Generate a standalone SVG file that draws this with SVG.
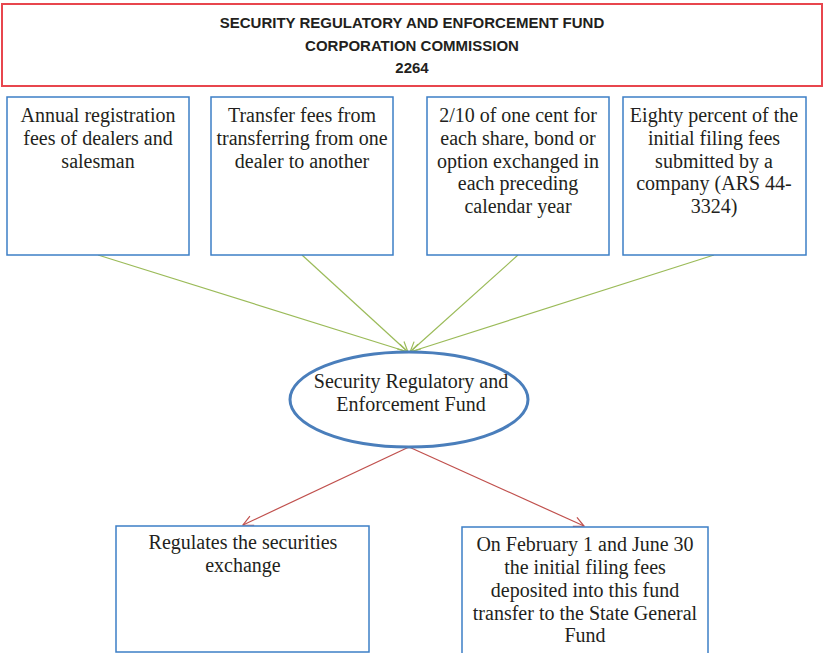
<svg xmlns="http://www.w3.org/2000/svg" width="825" height="653" viewBox="0 0 825 653">
  <defs>
    <style>
      .box { fill: #ffffff; stroke: #3d7fc6; stroke-width: 1.5; }
      .title-box { fill: #ffffff; stroke: #e8464e; stroke-width: 2; }
      .title { font-family: "Liberation Sans", Arial, sans-serif; font-weight: bold; font-size: 15px; fill: #231f20; text-anchor: middle; }
      .label { font-family: "Liberation Serif", "Times New Roman", serif; font-size: 20px; fill: #231f20; text-anchor: middle; }
      .in { stroke: #9bbb59; stroke-width: 1.2; fill: none; }
      .out { stroke: #c0504d; stroke-width: 1.2; fill: none; }
    </style>
    <marker id="arrow-green" viewBox="0 0 12 12" refX="11" refY="6" markerWidth="12" markerHeight="12" markerUnits="userSpaceOnUse" orient="auto">
      <path d="M1,1 L11,6 L1,11" fill="none" stroke="#9bbb59" stroke-width="1.2"/>
    </marker>
    <marker id="arrow-red" viewBox="0 0 12 12" refX="11" refY="6" markerWidth="12" markerHeight="12" markerUnits="userSpaceOnUse" orient="auto">
      <path d="M1,1 L11,6 L1,11" fill="none" stroke="#c0504d" stroke-width="1.2"/>
    </marker>
  </defs>

  <rect width="825" height="653" fill="#ffffff"/>

  <g id="header">
    <rect class="title-box" x="2" y="4" width="820" height="82"/>
    <text class="title" x="412" y="28">SECURITY REGULATORY AND ENFORCEMENT FUND</text>
    <text class="title" x="412" y="51">CORPORATION COMMISSION</text>
    <text class="title" x="412" y="73">2264</text>
  </g>

  <g id="connectors">
    <line class="in" x1="98" y1="255" x2="408" y2="352" marker-end="url(#arrow-green)"/>
    <line class="in" x1="302" y1="255" x2="408" y2="352" marker-end="url(#arrow-green)"/>
    <line class="in" x1="518" y1="255" x2="410" y2="352" marker-end="url(#arrow-green)"/>
    <line class="in" x1="714" y1="255" x2="410" y2="352" marker-end="url(#arrow-green)"/>
    <line class="out" x1="409" y1="447" x2="243" y2="525" marker-end="url(#arrow-red)"/>
    <line class="out" x1="409" y1="447" x2="584" y2="526" marker-end="url(#arrow-red)"/>
  </g>

  <g id="annual-registration">
    <rect class="box" x="7" y="97" width="182" height="158"/>
    <text class="label" x="98" y="122">Annual registration</text>
    <text class="label" x="98" y="145">fees of dealers and</text>
    <text class="label" x="98" y="168">salesman</text>
  </g>

  <g id="transfer-fees">
    <rect class="box" x="211" y="97" width="182" height="158"/>
    <text class="label" x="302" y="122">Transfer fees from</text>
    <text class="label" x="302" y="145">transferring from one</text>
    <text class="label" x="302" y="168">dealer to another</text>
  </g>

  <g id="share-fee">
    <rect class="box" x="427" y="97" width="182" height="158"/>
    <text class="label" x="518" y="122">2/10 of one cent for</text>
    <text class="label" x="518" y="145">each share, bond or</text>
    <text class="label" x="518" y="168">option exchanged in</text>
    <text class="label" x="518" y="190">each preceding</text>
    <text class="label" x="518" y="213">calendar year</text>
  </g>

  <g id="filing-fees">
    <rect class="box" x="623" y="97" width="183" height="158"/>
    <text class="label" x="714" y="122">Eighty percent of the</text>
    <text class="label" x="714" y="145">initial filing fees</text>
    <text class="label" x="714" y="168">submitted by a</text>
    <text class="label" x="714" y="190">company (ARS 44-</text>
    <text class="label" x="714" y="213">3324)</text>
  </g>

  <g id="fund">
    <ellipse cx="409" cy="399.5" rx="119" ry="47.5" fill="#ffffff" stroke="#4a7ebb" stroke-width="3"/>
    <text class="label" x="411" y="388">Security Regulatory and</text>
    <text class="label" x="411" y="411">Enforcement Fund</text>
  </g>

  <g id="regulates">
    <rect class="box" x="116" y="526" width="253" height="126"/>
    <text class="label" x="243" y="549">Regulates the securities</text>
    <text class="label" x="243" y="572">exchange</text>
  </g>

  <g id="general-fund-transfer">
    <rect class="box" x="462" y="527" width="246" height="130"/>
    <text class="label" x="585" y="551">On February 1 and June 30</text>
    <text class="label" x="585" y="574">the initial filing fees</text>
    <text class="label" x="585" y="597">deposited into this fund</text>
    <text class="label" x="585" y="620">transfer to the State General</text>
    <text class="label" x="585" y="642">Fund</text>
  </g>
</svg>
